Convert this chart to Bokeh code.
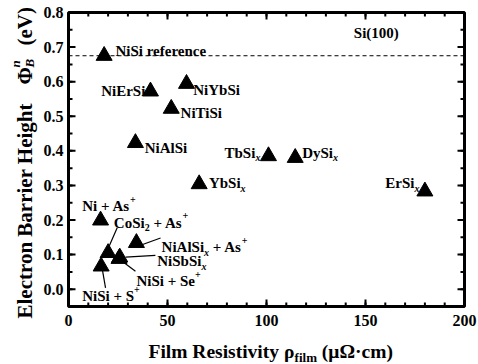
import math
from bokeh.plotting import figure
from bokeh.models import (Label, Span, Range1d, LinearAxis, FixedTicker,
                          PrintfTickFormatter, ColumnDataSource)
from bokeh.embed import file_html
from bokeh.resources import INLINE

# ---------------- data ----------------
materials = ["NiSi reference", "NiErSi", "NiYbSi", "NiTiSi", "NiAlSi",
             "TbSix", "DySix", "YbSix", "ErSix", "Ni + As+", "CoSi2 + As+",
             "NiAlSix + As+", "NiSbSix", "NiSi + Se+", "NiSi + S+"]
resistivity = [18.0, 41.4, 59.6, 51.9, 33.8, 101.0, 114.5, 66.0, 180.0,
               16.2, 20.0, 34.3, 25.9, 25.5, 16.5]          # µΩ·cm
barrier = [0.675, 0.572, 0.594, 0.522, 0.423, 0.385, 0.380, 0.304, 0.283,
           0.199, 0.105, 0.134, 0.092, 0.088, 0.066]       # eV

x_ticks = [0, 50, 100, 150, 200]
x_minor = list(range(0, 201, 10))
y_ticks = [0.0, 0.1, 0.2, 0.3, 0.4, 0.5, 0.6, 0.7, 0.8]
y_minor = [round(-0.05 + 0.05 * i, 2) for i in range(18)]

# label segments: (text, kind, italic)  kind: n / sub / sup
label_segments = [
    [("NiSi reference", "n", False)],
    [("NiErSi", "n", False)],
    [("NiYbSi", "n", False)],
    [("NiTiSi", "n", False)],
    [("NiAlSi", "n", False)],
    [("TbSi", "n", False), ("x", "sub", True)],
    [("DySi", "n", False), ("x", "sub", True)],
    [("YbSi", "n", False), ("x", "sub", True)],
    [("ErSi", "n", False), ("x", "sub", True)],
    [("Ni + As", "n", False), ("+", "sup", False)],
    [("CoSi", "n", False), ("2", "sub", False), (" + As", "n", False), ("+", "sup", False)],
    [("NiAlSi", "n", False), ("x", "sub", True), (" + As", "n", False), ("+", "sup", False)],
    [("NiSbSi", "n", False), ("x", "sub", True)],
    [("NiSi + Se", "n", False), ("+", "sup", False)],
    [("NiSi + S", "n", False), ("+", "sup", False)],
]
# label anchors (left end, baseline) in data units
label_x = [23.7, 16.5, 63.0, 56.6, 38.5, 78.8, 118.0, 70.9, 160.0,
           6.9, 22.9, 47.0, 44.8, 34.3, 6.9]
label_y = [0.690, 0.574, 0.577, 0.508, 0.409, 0.394, 0.394, 0.306, 0.306,
           0.240, 0.192, 0.121, 0.081, 0.023, -0.020]

# leader lines (from point toward label), data units
leader_x0 = [19.8, 36.4, 28.8, 26.6, 17.0]
leader_y0 = [0.115, 0.127, 0.0925, 0.083, 0.060]
leader_x1 = [24.6, 46.5, 43.9, 33.8, 18.7]
leader_y1 = [0.178, 0.148, 0.098, 0.052, 0.004]

FONT = "Liberation Serif"
X0, X1, Y0, Y1 = 0, 200, -0.05, 0.8
FW, FH = 396, 294

# Times-Bold advance widths (1/1000 em)
W = {' ': 250, '+': 570, '(': 333, ')': 333, '.': 250, '0': 500, '1': 500,
     '2': 500, 'A': 722, 'B': 667, 'C': 722, 'D': 722, 'E': 667, 'F': 611,
     'H': 778, 'N': 722, 'R': 722, 'S': 556, 'T': 667, 'V': 722, 'Y': 722,
     'a': 500, 'b': 556, 'c': 444, 'e': 444, 'f': 333, 'g': 500, 'h': 556,
     'i': 278, 'l': 278, 'm': 833, 'n': 556, 'o': 500, 'r': 444, 's': 389,
     't': 333, 'v': 500, 'x': 500, 'y': 500, 'ρ': 549, 'μ': 556, 'Ω': 768,
     '·': 250, 'Φ': 780}


def text_width(t, size):
    return sum(W.get(c, 500) for c in t) * size / 1000.0


# ---------------- figure ----------------
p = figure(frame_width=FW, frame_height=FH,
           x_range=Range1d(X0, X1), y_range=Range1d(Y0, Y1),
           output_backend="svg", toolbar_location=None,
           min_border_left=68, min_border_right=14,
           min_border_top=12, min_border_bottom=58,
           background_fill_color="white", border_fill_color="white")
p.xgrid.visible = False
p.ygrid.visible = False
p.outline_line_color = "black"
p.outline_line_width = 3

xt = FixedTicker(ticks=x_ticks, minor_ticks=x_minor)
yt = FixedTicker(ticks=y_ticks, minor_ticks=y_minor)


def style_axis(ax, ticks, show_labels):
    ax.axis_line_color = None
    ax.major_tick_in = 0
    ax.major_tick_out = 0
    ax.minor_tick_in = 0
    ax.minor_tick_out = 0
    ax.major_tick_line_color = None
    ax.minor_tick_line_color = None
    ax.major_label_text_font = FONT
    ax.major_label_text_font_style = "bold"
    ax.major_label_text_font_size = "16px"
    ax.major_label_text_color = "black"
    if not show_labels:
        ax.major_label_overrides = {t: "" for t in ticks}
        ax.major_label_standoff = 0


p.xaxis.ticker = xt
p.yaxis.ticker = yt
p.yaxis.formatter = PrintfTickFormatter(format="%.1f")
style_axis(p.xaxis[0], x_ticks, True)
style_axis(p.yaxis[0], y_ticks, True)
p.xaxis.major_label_standoff = 8
p.yaxis.major_label_standoff = 5

top = LinearAxis(ticker=xt)
right = LinearAxis(ticker=yt)
style_axis(top, x_ticks, False)
style_axis(right, y_ticks, False)
p.add_layout(top, "above")
p.add_layout(right, "right")

# inward ticks on all four sides, drawn from the tick lists
dx = (X1 - X0) / FW     # data units per pixel
dy = (Y1 - Y0) / FH
for xs, ln in ((x_ticks, 7), (x_minor, 4)):
    n = len(xs)
    p.segment(x0=xs, y0=[Y0] * n, x1=xs, y1=[Y0 + ln * dy] * n,
              line_color="black", line_width=2)
    p.segment(x0=xs, y0=[Y1] * n, x1=xs, y1=[Y1 - ln * dy] * n,
              line_color="black", line_width=2)
for ys, ln in ((y_ticks, 7), (y_minor, 4)):
    n = len(ys)
    p.segment(x0=[X0] * n, y0=ys, x1=[X0 + ln * dx] * n, y1=ys,
              line_color="black", line_width=2)
    p.segment(x0=[X1] * n, y0=ys, x1=[X1 - ln * dx] * n, y1=ys,
              line_color="black", line_width=2)

# dashed NiSi reference line
p.add_layout(Span(location=barrier[0], dimension="width", line_color="black",
                  line_width=1, line_dash="4 3"))

# leader lines
p.segment(x0=leader_x0, y0=leader_y0, x1=leader_x1, y1=leader_y1,
          line_color="black", line_width=1.2)

# data points
src = ColumnDataSource(dict(x=resistivity, y=barrier, name=materials))
p.scatter("x", "y", source=src, marker="triangle", size=16,
          fill_color="black", line_color="black")


def rich(x, y, segs, size, small, angle=0.0, positions=None,
         sub_shift=5, sup_shift=7, place=None):
    adv = 0.0
    for i, seg in enumerate(segs):
        text, kind, italic = seg
        fs = size if kind == "n" else small
        shift = 0 if kind == "n" else (-sub_shift if kind == "sub" else sup_shift)
        start = positions[i] if positions is not None else adv
        stripped = text.lstrip(" ")
        lead = text_width(text[:len(text) - len(stripped)], fs)
        s = start + lead
        if angle == 0.0:
            xo, yo = s, shift
        else:
            xo, yo = -shift, s
        lab = Label(x=x, y=y, text=stripped,
                    x_offset=xo, y_offset=yo, angle=angle, text_font=FONT,
                    text_font_size=f"{fs}px",
                    text_font_style="bold italic" if italic else "bold",
                    text_color="black", text_align="left",
                    text_baseline="alphabetic")
        if place is None:
            p.add_layout(lab)
        else:
            p.add_layout(lab, place)
        adv = start + text_width(text, fs)


for segs, lx, ly in zip(label_segments, label_x, label_y):
    rich(lx, ly, segs, 15, 10)

rich(144.1, 0.741, [("Si(100)", "n", False)], 15, 10)


# axis titles (placed from reference pixel layout).  They live in the
# right/below side panels so that they are not clipped to the frame; their
# position comes from the data scales.
def ref_x(px):
    return (px - 68) / 1.98


def ref_y(py):
    return 0.8 - (py - 12) / 345.88


rich(ref_x(148), ref_y(351),
     [("Film Resistivity ρ", "n", False), ("film", "sub", False),
      (" (μΩ·cm)", "n", False)], 19.5, 13, sub_shift=6, place="below")

ylab = [("Electron Barrier Height", "n", False), ("Φ", "n", False),
        ("B", "sub", True), ("n", "sup", True), ("(eV)", "n", False)]
rich(ref_x(24), ref_y(318), ylab, 21, 13, angle=math.pi / 2,
     positions=[0, 234, 251, 251, 273], sub_shift=5, sup_shift=9,
     place="right")

open("out.html", "w").write(file_html(p, INLINE))
